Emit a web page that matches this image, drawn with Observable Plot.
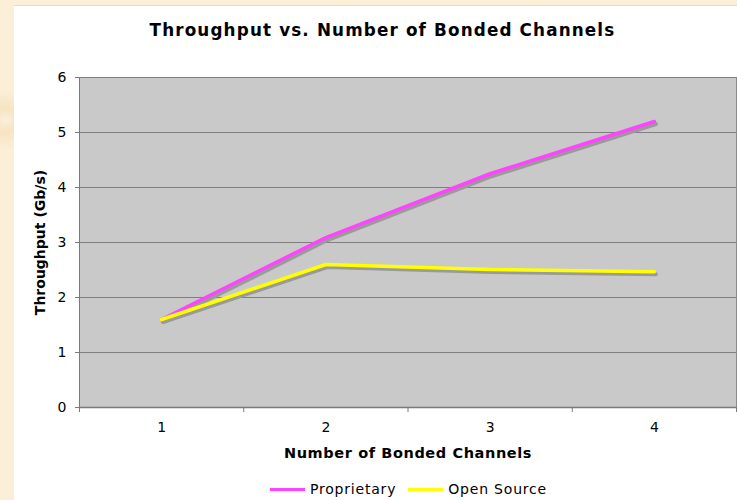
<!DOCTYPE html>
<html><head><meta charset="utf-8">
<script src="https://cdn.jsdelivr.net/npm/d3@7"></script>
<script src="https://cdn.jsdelivr.net/npm/@observablehq/plot@0.6"></script>
<style>
body{margin:0;width:737px;height:500px;overflow:hidden;background:#f8e9cc;background-image:radial-gradient(circle at 5px 120px,#fbf0da 0,#f6e4c2 12px,#fbefd8 30px);font-family:"DejaVu Sans",Verdana,sans-serif;}
#card{position:absolute;left:14px;top:5px;width:723px;height:495px;background:#fff;border-top:1px solid #ddd;}
#title{position:absolute;left:0;width:737px;top:20px;text-align:center;font-weight:bold;font-size:16.8px;letter-spacing:1.15px;color:#000;padding-left:28px;box-sizing:border-box;}
#chart{position:absolute;left:14px;top:40px;}
#legend{position:absolute;top:481px;left:270px;font-size:14px;letter-spacing:0.8px;color:#000;display:flex;align-items:center;}
.sw{display:inline-block;width:35px;height:3px;margin-right:5px;}
</style></head>
<body>
<div id="card"></div>
<div id="title">Throughput vs. Number of Bonded Channels</div>
<div id="chart"></div>
<div id="legend"></div>
<script>
const channels = [1, 2, 3, 4];
const proprietary = [1.6, 3.09, 4.25, 5.2];
const openSource = [1.6, 2.6, 2.51, 2.47];
const seriesNames = ["Proprietary", "Open Source"];
const seriesColors = ["#ff44ff", "#ffff00"];
const yTicks = [0, 1, 2, 3, 4, 5, 6];

const rows = [];
channels.forEach((c, i) => {
  rows.push({ch: c, v: proprietary[i], s: seriesNames[0]});
  rows.push({ch: c, v: openSource[i], s: seriesNames[1]});
});

const plot = Plot.plot({
  width: 723, height: 430,
  marginLeft: 65, marginRight: 1, marginTop: 37, marginBottom: 63,
  style: {fontFamily: '"DejaVu Sans", Verdana, sans-serif', fontSize: "14px", color: "#000", background: "transparent"},
  x: {domain: [0.5, 4.5]},
  y: {domain: [0, 6]},
  color: {domain: seriesNames, range: seriesColors},
  marks: [
    Plot.frame({fill: "#c9c9c9", stroke: "#8a8a8a"}),
    Plot.gridY(yTicks.slice(1), {stroke: "#7f7f7f", strokeOpacity: 1, strokeWidth: 1}),
    Plot.ruleX([0.5], {stroke: "#7a7a7a"}),
    Plot.ruleY([0], {stroke: "#7a7a7a", strokeWidth: 1.5}),
    Plot.axisY({ticks: yTicks, tickFormat: d => String(d), tickSize: 4, tickPadding: 9, label: null, stroke: "#7a7a7a"}),
    Plot.axisX({ticks: [0.5, 1.5, 2.5, 3.5, 4.5], tickFormat: () => "", tickSize: 5, label: null, stroke: "#7a7a7a"}),
    Plot.axisX({ticks: channels, tickFormat: d => String(d), tickSize: 0, tickPadding: 15, label: null}),
    Plot.line(rows, {x: "ch", y: "v", z: "s", stroke: "#9a9a9a", strokeWidth: 4, dx: 1.5, dy: 2.5, strokeLinejoin: "miter"}),
    Plot.line(rows, {x: "ch", y: "v", z: "s", stroke: "s", strokeWidth: 3.5, strokeLinejoin: "miter"}),
    Plot.text(["Number of Bonded Channels"], {frameAnchor: "bottom", textAnchor: "middle", dy: 50, fontWeight: "bold", fontSize: 14.5}),
    Plot.text(["Throughput (Gb/s)"], {frameAnchor: "left", textAnchor: "middle", dx: -39, rotate: -90, fontWeight: "bold", fontSize: 14})
  ]
});
document.getElementById("chart").appendChild(plot);
plot.querySelectorAll("text").forEach(t => {
  if (t.textContent === "Number of Bonded Channels") t.setAttribute("letter-spacing", "0.6");
});

const lg = document.getElementById("legend");
seriesNames.forEach((n, i) => {
  const item = document.createElement("span");
  item.style.display = "flex"; item.style.alignItems = "center"; item.style.marginRight = "12px";
  item.innerHTML = `<span class="sw" style="background:${seriesColors[i]}"></span><span>${n}</span>`;
  lg.appendChild(item);
});
</script>
</body></html>
